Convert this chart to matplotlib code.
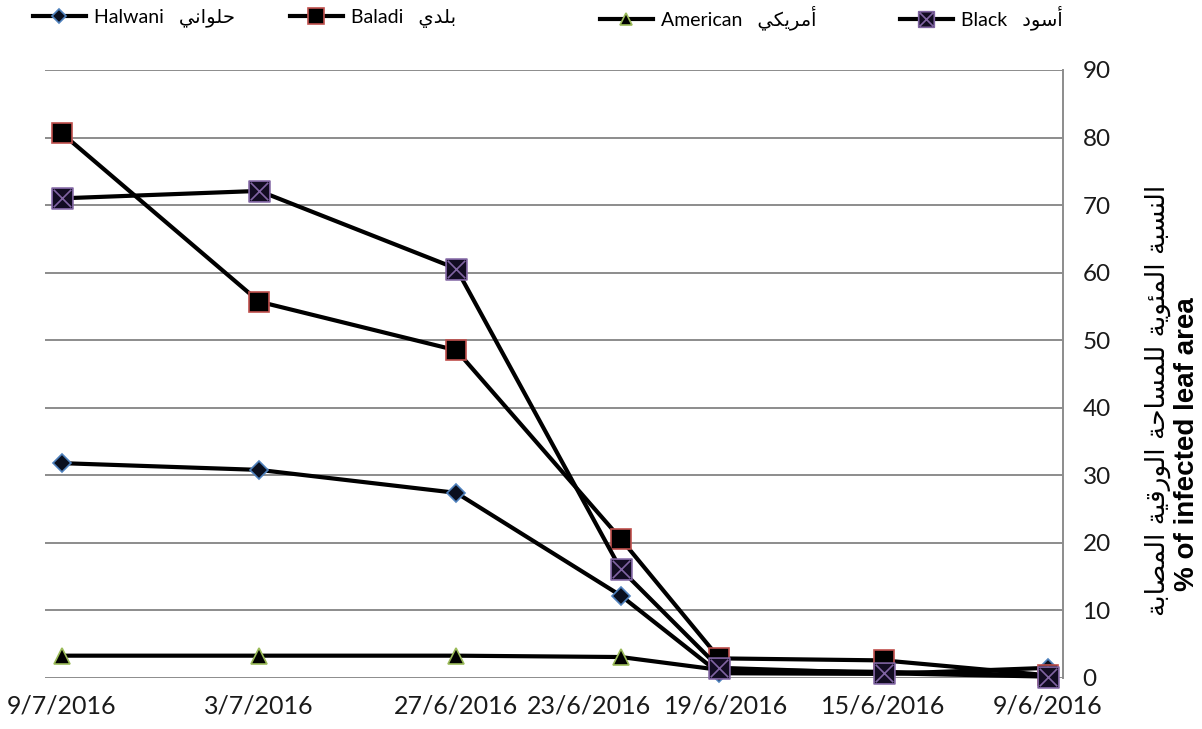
import matplotlib
matplotlib.use("Agg")
import matplotlib.pyplot as plt
from matplotlib.path import Path
from matplotlib.transforms import ScaledTranslation

plt.rcParams['font.family'] = ['Lato', 'DejaVu Sans']

# ---------------- data ----------------
date_labels = ["9/7/2016", "3/7/2016", "27/6/2016", "23/6/2016",
               "19/6/2016", "15/6/2016", "9/6/2016"]
# position of each sample along the (reversed) date axis, days before 9/7/2016
days_before = [0, 6, 12, 17, 20, 25, 30]

halwani = [31.8, 30.8, 27.4, 12.2, 0.7, 0.6, 1.5]
baladi = [80.6, 55.7, 48.5, 20.6, 2.9, 2.6, 0.4]
american = [3.3, 3.3, 3.3, 3.1, 1.2, 0.9, 0.4]
black = [71.0, 72.1, 60.6, 16.1, 1.5, 0.7, 0.2]

y_ticks = [0, 10, 20, 30, 40, 50, 60, 70, 80, 90]

names_en = ["Halwani", "Baladi", "American", "Black"]
names_ar = ["حلواني", "بلدي", "أمريكي", "أسود"]
ylabel_ar = "النسبة المئوية للمساحة الورقية المصابة"
ylabel_en = "% of infected leaf area"

# ---------------- minimal Arabic shaping ----------------
FORMS = {
    'ا': (0xFE8D, 0xFE8E, None, None),
    'أ': (0xFE83, 0xFE84, None, None),
    'د': (0xFEA9, 0xFEAA, None, None),
    'ر': (0xFEAD, 0xFEAE, None, None),
    'و': (0xFEED, 0xFEEE, None, None),
    'ة': (0xFE93, 0xFE94, None, None),
    'ب': (0xFE8F, 0xFE90, 0xFE91, 0xFE92),
    'ت': (0xFE95, 0xFE96, 0xFE97, 0xFE98),
    'ح': (0xFEA1, 0xFEA2, 0xFEA3, 0xFEA4),
    'س': (0xFEB1, 0xFEB2, 0xFEB3, 0xFEB4),
    'ص': (0xFEB9, 0xFEBA, 0xFEBB, 0xFEBC),
    'ق': (0xFED5, 0xFED6, 0xFED7, 0xFED8),
    'ك': (0xFED9, 0xFEDA, 0xFEDB, 0xFEDC),
    'ل': (0xFEDD, 0xFEDE, 0xFEDF, 0xFEE0),
    'م': (0xFEE1, 0xFEE2, 0xFEE3, 0xFEE4),
    'ن': (0xFEE5, 0xFEE6, 0xFEE7, 0xFEE8),
    'ي': (0xFEF1, 0xFEF2, 0xFEF3, 0xFEF4),
    'ئ': (0xFE89, 0xFE8A, 0xFE8B, 0xFE8C),
}


def dual(c):
    return c in FORMS and FORMS[c][2] is not None


def shape_ar(text):
    out = []
    for i, c in enumerate(text):
        if c not in FORMS:
            out.append(c)
            continue
        prev = text[i - 1] if i > 0 else None
        nxt = text[i + 1] if i + 1 < len(text) else None
        jp = prev is not None and dual(prev)
        jn = dual(c) and nxt is not None and nxt in FORMS
        iso, fin, ini, med = FORMS[c]
        if jp and jn:
            code = med
        elif jp:
            code = fin
        elif jn:
            code = ini
        else:
            code = iso
        out.append(chr(code))
    return ''.join(reversed(out))


# ---------------- figure ----------------
fig = plt.figure(figsize=(12.02, 7.29), dpi=100)
ax = fig.add_axes([0.0374, 0.070, 0.847, 0.834])

# marker: square with an X inside
s = 0.5
k = 0.42
xbox = Path([(-s, -s), (s, -s), (s, s), (-s, s), (-s, -s),
             (-k, -k), (k, k), (-k, k), (k, -k)],
            [Path.MOVETO, Path.LINETO, Path.LINETO, Path.LINETO, Path.CLOSEPOLY,
             Path.MOVETO, Path.LINETO, Path.MOVETO, Path.LINETO])

lw = 3.0
common = dict(color='black', lw=lw, clip_on=False, solid_joinstyle='round')
l1, = ax.plot(days_before, halwani, marker='D', ms=9, mfc='#0a0f1e', mec='#4f81bd',
              mew=1.2, **common)
l2, = ax.plot(days_before, baladi, marker='s', ms=15, mfc='#000000', mec='#c0504d',
              mew=1.2, **common)
l3, = ax.plot(days_before, american, marker='^', ms=12, mfc='#000000', mec='#9bbb59',
              mew=1.2, **common)
l4, = ax.plot(days_before, black, marker=xbox, ms=15, mfc='#120c22', mec='#8064a2',
              mew=1.2, **common)

ax.set_xlim(-0.52, 30.46)
ax.set_ylim(0, 90)
ax.set_xticks(days_before)
ax.set_xticklabels(date_labels, fontsize=18, color='#1a1a1a')
ax.set_yticks(y_ticks)
ax.set_yticklabels([str(v) for v in y_ticks], fontsize=17.5, color='#1a1a1a')
ax.yaxis.tick_right()
ax.tick_params(axis='both', length=0)
ax.tick_params(axis='x', pad=12)
ax.tick_params(axis='y', pad=14)

# crowded labels are nudged sideways, as in the source chart
label_nudge_px = {3: -32, 4: 7}
for idx, dx in label_nudge_px.items():
    lab = ax.get_xticklabels()[idx]
    lab.set_transform(lab.get_transform() + ScaledTranslation(dx / 100, 0, fig.dpi_scale_trans))

for sp in ['left', 'top', 'bottom']:
    ax.spines[sp].set_visible(False)
ax.spines['right'].set_color('#8c8c8c')
ax.spines['right'].set_linewidth(1.4)
ax.grid(axis='y', color='#8c8c8c', lw=1.4)
ax.set_axisbelow(True)

# y labels (Arabic + English), rotated
fig.text(1158 / 1202, 1 - 400 / 729, shape_ar(ylabel_ar), rotation=90,
         ha='center', va='center', fontsize=19, family=['DejaVu Sans'])
fig.text(1187 / 1202, 1 - 444 / 729, ylabel_en, rotation=90,
         ha='center', va='center', fontsize=20, fontweight='bold',
         family=['Liberation Sans'])

# legend entries (placed individually)
entry_x = [33, 290, 600, 900]
handles = [l1, l2, l3, l4]
for h, en, ar, x0 in zip(handles, names_en, names_ar, entry_x):
    fig.legend([h], [en + "   " + shape_ar(ar)], loc='center left',
               bbox_to_anchor=(x0 / 1202, 1 - 18 / 729), frameon=False,
               borderpad=0, borderaxespad=0, handlelength=2.7,
               handletextpad=0.45, fontsize=14, markerscale=0.75)

fig.savefig("out.png", dpi=100)
